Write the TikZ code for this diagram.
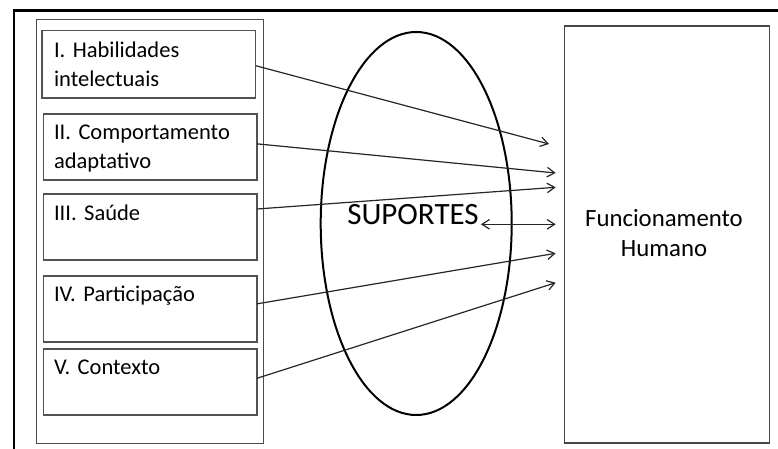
\documentclass[tikz,border=0pt]{standalone}
\usepackage{fontspec}
\setmainfont{Carlito}
\frenchspacing
\usetikzlibrary{arrows.meta,shapes.geometric}
\begin{document}
\begin{tikzpicture}[x=1pt,y=-1pt,
  frame/.style={line width=2.6pt,draw=black},
  contbox/.style={draw=black!70,line width=1.4pt,inner sep=0pt,outer sep=0pt},
  itembox/.style={draw=black!68,line width=1.4pt,minimum width=213.7pt,minimum height=66pt,inner sep=0pt,outer sep=0pt},
  itemtxt/.style={anchor=base west,inner sep=0pt,text width=205pt,align=left,font=\fontsize{22.5}{29}\selectfont\frenchspacing,text=black},
  conn/.style={draw=black!85,line width=1.2pt,-{Straight Barb[length=7.5pt,width=9.5pt]}},
  dconn/.style={draw=black!85,line width=1.2pt,{Straight Barb[length=7.5pt,width=9.5pt]}-{Straight Barb[length=7.5pt,width=9.5pt]}},
]
\useasboundingbox (0,0) rectangle (778,449);
\clip (0,0) rectangle (778,449);
\fill[white] (0,0) rectangle (778,449);
% outer frame (continues past the picture edges)
\draw[frame] (14,470) -- (14,10.3) -- (800,10.3);
% left container
\node[contbox,minimum width=227pt,minimum height=423.7pt] (cont) at (150,231.65) {};
% item boxes
\node[itembox,minimum width=213.9pt,minimum height=67.2pt] (b1) at (148.75,64.4) {};
\node[itembox] (b2) at (150.15,146.85) {};
\node[itembox] (b3) at (150.15,227) {};
\node[itembox] (b4) at (150.15,308.85) {};
\node[itembox] (b5) at (150.15,382) {};
\node[itemtxt] (t1) at ([xshift=12pt,yshift=-27.2pt]b1.north west) {I. Habilidades\\intelectuais};
\node[itemtxt] (t2) at ([xshift=10.5pt,yshift=-26pt]b2.north west) {II. Comportamento\\adaptativo};
\node[itemtxt] (t3) at ([xshift=10.5pt,yshift=-26.7pt]b3.north west) {III. Saúde};
\node[itemtxt] (t4) at ([xshift=10.5pt,yshift=-25.7pt]b4.north west) {IV. Participação};
\node[itemtxt] (t5) at ([xshift=10.5pt,yshift=-25pt]b5.north west) {V. Contexto};
% ellipse
\node[ellipse,draw=black,line width=2pt,minimum width=191pt,minimum height=383pt,inner sep=0pt] (ell) at (416.2,223.5) {};
\node[anchor=base,inner sep=2pt,font=\fontsize{31}{37}\selectfont,text=black] (sup) at (413,224.3) {SUPORTES};
% right box
\node[contbox,draw=black!72,line width=1.3pt,minimum width=205pt,minimum height=417pt] (fh) at (666.8,234.5) {};
\node[anchor=base,inner sep=0pt,text width=200pt,align=center,font=\fontsize{24.8}{30}\selectfont,text=black] (fht) at (664,226) {Funcionamento\\Humano};
% arrow end points
\coordinate (e1) at (549,144);
\coordinate (e2) at (555.7,173);
\coordinate (e3) at (555.7,187.3);
\coordinate (e4) at (555.7,224.3);
\coordinate (e5) at (555.7,253.3);
\coordinate (e6) at (555.7,282.7);
% connectors
\draw[conn] ([yshift=-1.3pt]b1.east) -- (e1);
\draw[conn] ([yshift=3pt]b2.east) -- (e2);
\draw[conn] ([yshift=18pt]b3.east) -- (e3);
\draw[dconn] (sup.base east) -- (e4);
\draw[conn] ([yshift=5pt]b4.east) -- (e5);
\draw[conn] ([yshift=3.7pt]b5.east) -- (e6);
\end{tikzpicture}
\end{document}
